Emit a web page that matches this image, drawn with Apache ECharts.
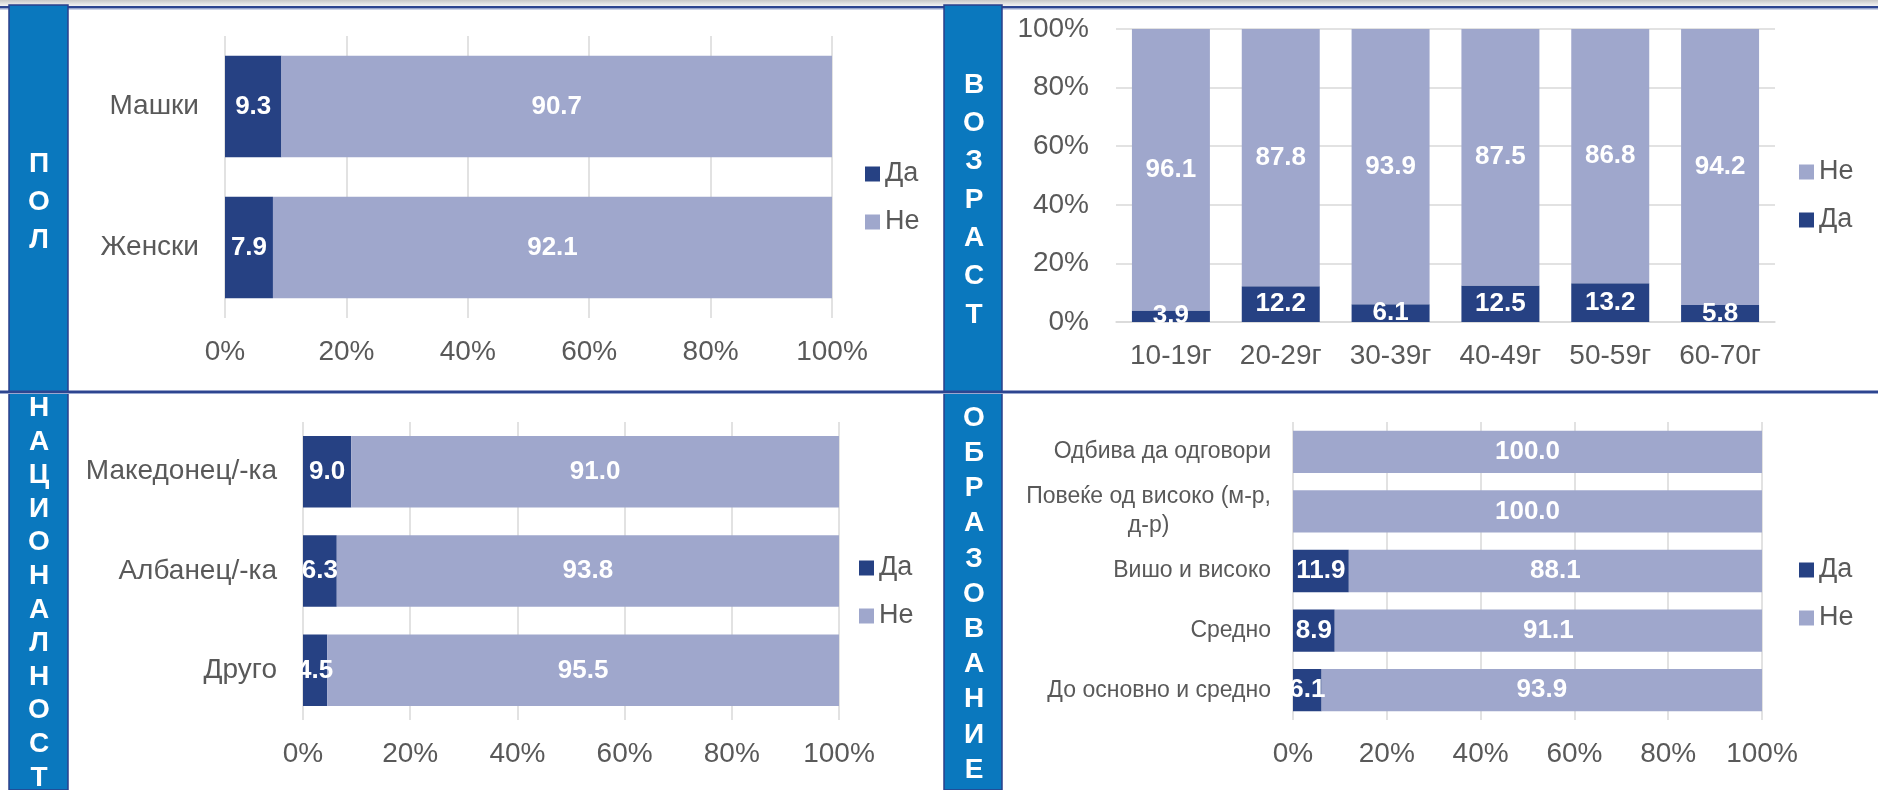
<!DOCTYPE html>
<html><head><meta charset="utf-8">
<script src="https://cdn.jsdelivr.net/npm/echarts@6/dist/echarts.min.js"></script>
<style>html,body{margin:0;padding:0;background:#fff}#c{width:1878px;height:790px}</style>
</head><body><div id="c"></div>
<script>
// ---- data ----
const genderCats = ['Машки', 'Женски'];
const genderYes = [9.3, 7.9];
const genderNo = [90.7, 92.1];

const ageCats = ['10-19г', '20-29г', '30-39г', '40-49г', '50-59г', '60-70г'];
const ageYes = [3.9, 12.2, 6.1, 12.5, 13.2, 5.8];
const ageNo = [96.1, 87.8, 93.9, 87.5, 86.8, 94.2];

const natCats = ['Македонец/-ка', 'Албанец/-ка', 'Друго'];
const natYes = [9.0, 6.3, 4.5];
const natNo = [91.0, 93.8, 95.5];

const eduCats = ['Одбива да одговори', 'Повеќе од високо (м-р,\nд-р)', 'Вишо и високо', 'Средно', 'До основно и средно'];
const eduYes = [null, null, 11.9, 8.9, 6.1];
const eduNo = [100.0, 100.0, 88.1, 91.1, 93.9];

const pctTickLabels = ['0%', '20%', '40%', '60%', '80%', '100%'];
const sideTitles = ['ПОЛ', 'ВОЗРАСТ', 'НАЦИОНАЛНОСТ', 'ОБРАЗОВАНИЕ'];
const seriesNames = ['Да', 'Не'];

// ---- styling ----
const FONT = '"Liberation Sans", Arial, sans-serif';
const YES_C = '#264183';
const NO_C = '#9fa7cc';
const GRID_C = '#d9d9d9';
const TXT_C = '#595959';

const pctFmt = v => pctTickLabels[Math.round(v / 20)];
const valLabel = {
  show: true, position: 'inside', color: '#fff', fontWeight: 'bold', fontSize: 26, fontFamily: FONT,
  formatter: p => (p.value == null ? '' : Number(p.value).toFixed(1))
};

function valueAxis(gi, pos) {
  return {
    type: 'value', gridIndex: gi, min: 0, max: 100, interval: 20,
    axisLine: { show: false }, axisTick: { show: false },
    splitLine: { show: true, lineStyle: { color: GRID_C, width: 1.5 } },
    axisLabel: { formatter: pctFmt, fontSize: 28, color: TXT_C, fontFamily: FONT, margin: pos === 'y' ? 27 : 20 }
  };
}
function catAxis(gi, data, horiz, fs, margin) {
  return {
    type: 'category', gridIndex: gi, data: data, inverse: horiz,
    axisLine: { show: !horiz, lineStyle: { color: GRID_C, width: 1.5 } },
    axisTick: { show: false },
    axisLabel: { fontSize: fs, color: TXT_C, fontFamily: FONT, margin: margin, interval: 0 }
  };
}

const grids = [
  { left: 225, top: 36, width: 607, height: 282 },
  { left: 1116, top: 29, width: 659, height: 293 },
  { left: 303, top: 422, width: 536, height: 298 },
  { left: 1293, top: 422, width: 469, height: 298 }
];

const eduAxis = catAxis(3, eduCats, true, 23, 22);
eduAxis.axisLabel.formatter = v => v.split('\n').map(s => '{c|' + s + '}').join('\n');
eduAxis.axisLabel.rich = { c: { align: 'center', fontSize: 23, color: TXT_C, fontFamily: FONT, lineHeight: 29 } };

const xAxes = [valueAxis(0, 'x'), catAxis(1, ageCats, false, 28, 20), valueAxis(2, 'x'), valueAxis(3, 'x')];
const yAxes = [catAxis(0, genderCats, true, 28, 26), valueAxis(1, 'y'), catAxis(2, natCats, true, 28, 26), eduAxis];

function pair(gi, yes, no, gap) {
  return [
    { name: seriesNames[0], type: 'bar', stack: 's' + gi, xAxisIndex: gi, yAxisIndex: gi, data: yes,
      itemStyle: { color: YES_C }, barCategoryGap: gap, label: valLabel, emphasis: { disabled: true } },
    { name: seriesNames[1], type: 'bar', stack: 's' + gi, xAxisIndex: gi, yAxisIndex: gi, data: no,
      itemStyle: { color: NO_C }, barCategoryGap: gap, label: valLabel, emphasis: { disabled: true } }
  ];
}

function legend(left, top, order) {
  return {
    orient: 'vertical', left: left, top: top, data: order, selectedMode: false,
    icon: 'rect', itemWidth: 15, itemHeight: 15, itemGap: 18, padding: 0,
    textStyle: { fontSize: 27, color: TXT_C, fontFamily: FONT, lineHeight: 30 }
  };
}

function sideText(x, y, word, lh) {
  return { type: 'text', x: x, y: y, z: 20,
    style: { text: word.split('').join('\n'), fill: '#fff', font: 'bold 28px ' + FONT,
      textAlign: 'center', textVerticalAlign: 'middle', lineHeight: lh } };
}

const graphic = [
  { type: 'rect', shape: { x: 0, y: 0, width: 1878, height: 6 }, z: 1,
    style: { fill: new echarts.graphic.LinearGradient(0, 0, 0, 1, [{ offset: 0, color: '#c8c8c8' }, { offset: 1, color: '#f4f4f4' }]) } },
  { type: 'rect', shape: { x: 9, y: 5, width: 59, height: 785 }, z: 5,
    style: { fill: '#0a78be', stroke: '#2b3f8a', lineWidth: 1.5 } },
  { type: 'rect', shape: { x: 944, y: 5, width: 58, height: 785 }, z: 5,
    style: { fill: '#0a78be', stroke: '#2b3f8a', lineWidth: 1.5 } },
  { type: 'rect', shape: { x: 0, y: 6, width: 1878, height: 2.5 }, z: 4, style: { fill: '#2d4590' } },
  { type: 'rect', shape: { x: 0, y: 8.5, width: 1878, height: 1 }, z: 4, style: { fill: '#9aa8d0' } },
  { type: 'rect', shape: { x: 0, y: 390.5, width: 1878, height: 2.5 }, z: 6, style: { fill: '#2d4590' } },
  { type: 'rect', shape: { x: 0, y: 393, width: 1878, height: 1 }, z: 6, style: { fill: '#9aa8d0' } },
  sideText(39, 202, sideTitles[0], 38),
  sideText(974, 200, sideTitles[1], 38.3),
  sideText(39, 593, sideTitles[2], 33.6),
  sideText(974, 594, sideTitles[3], 35.2)
];

const chart = echarts.init(document.getElementById('c'), null, { renderer: 'canvas' });
chart.setOption({
  animation: false,
  backgroundColor: '#fff',
  textStyle: { fontFamily: FONT },
  grid: grids,
  xAxis: xAxes,
  yAxis: yAxes,
  legend: [
    legend(865, 159, ['Да', 'Не']),
    legend(1799, 157, ['Не', 'Да']),
    legend(859, 553, ['Да', 'Не']),
    legend(1799, 555, ['Да', 'Не'])
  ],
  series: [].concat(
    pair(0, genderYes, genderNo, '28%'),
    pair(1, ageYes, ageNo, '29%'),
    pair(2, natYes, natNo, '28%'),
    pair(3, eduYes, eduNo, '29%')
  ),
  graphic: graphic
});
</script>
</body></html>
